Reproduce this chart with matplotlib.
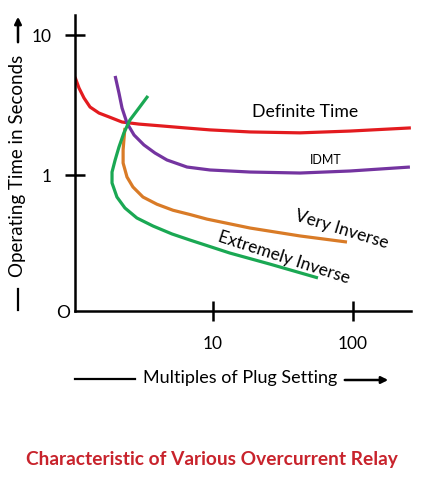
import matplotlib

matplotlib.use("Agg")
import matplotlib.pyplot as plt
from matplotlib.patches import FancyArrowPatch
from matplotlib.lines import Line2D

# curve values (multiple of plug setting, seconds)
definite_x = [1.033, 1.104, 1.198, 1.323, 1.533, 1.807, 2.239, 2.96, 4.32, 6.31,
              9.52, 18.4, 41.8, 95.2, 259]
definite_y = [5.01, 4.18, 3.55, 3.06, 2.77, 2.60, 2.39, 2.31, 2.24, 2.17,
              2.10, 2.03, 2.00, 2.06, 2.17]

idmt_x = [2.00, 2.13, 2.24, 2.43, 2.73, 3.21, 3.85, 4.69, 6.52, 9.52,
          18.4, 41.8, 95.2, 255]
idmt_y = [5.10, 3.85, 3.01, 2.35, 1.93, 1.64, 1.436, 1.28, 1.14, 1.086,
          1.05, 1.033, 1.068, 1.14]

very_x = [2.35, 2.31, 2.28, 2.28, 2.43, 2.68, 3.16, 3.98, 5.18, 6.85,
          9.06, 18.4, 41.8, 90.6]
very_y = [2.17, 1.78, 1.51, 1.218, 0.968, 0.821, 0.696, 0.618, 0.560, 0.522,
          0.484, 0.418, 0.367, 0.332]

extreme_x = [3.43, 2.96, 2.55, 2.31, 2.13, 2.00, 1.90, 1.90, 2.06, 2.35,
             2.86, 3.73, 5.10, 6.85, 13.2, 25.5, 56.2]
extreme_y = [3.67, 3.01, 2.47, 2.00, 1.585, 1.28, 1.05, 0.877, 0.696, 0.581,
             0.493, 0.432, 0.379, 0.343, 0.277, 0.231, 0.184]

x_ticks = [10, 100]
x_tick_labels = ["10", "100"]
y_ticks = [1, 10]
y_tick_labels = ["1", "10"]

W, H = 424, 503


def fx(px):
    return px / W


def fy(py):
    return 1 - py / H


plt.rcParams["font.family"] = ["Lato", "DejaVu Sans"]

fig = plt.figure(figsize=(W / 100, H / 100), dpi=100)
ax = fig.add_axes([fx(75), fy(311), (411 - 75) / W, (311 - 15) / H])
ax.set_xscale("log")
ax.set_yscale("log")
ax.set_xlim(10 ** (2 / 140), 10 ** (338 / 140))
ax.set_ylim(10 ** (-136 / 140), 10 ** (160 / 140))

style = dict(lw=2.3, solid_capstyle="butt", solid_joinstyle="round")
ax.plot(definite_x, definite_y, color="#e31b1f", **style)
ax.plot(idmt_x, idmt_y, color="#7434a0", **style)
ax.plot(very_x, very_y, color="#d97b27", **style)
ax.plot(extreme_x, extreme_y, color="#1aa853", **style)

for side in ["top", "right"]:
    ax.spines[side].set_visible(False)
for side in ["left", "bottom"]:
    ax.spines[side].set_linewidth(1.8)

ax.minorticks_off()
ax.set_xticks(x_ticks, x_tick_labels)
ax.set_yticks(y_ticks, y_tick_labels)
ax.tick_params(axis="both", direction="inout", length=14, width=1.8, labelsize=12.5)
ax.tick_params(axis="x", pad=11)
ax.tick_params(axis="y", pad=10)

# origin label
fig.text(fx(63), fy(313), "O", fontsize=12.5, ha="center", va="center")

# curve labels
fig.text(fx(305), fy(112), "Definite Time", fontsize=12.7, ha="center", va="center")
fig.text(fx(326), fy(160), "IDMT", fontsize=9, ha="center", va="center")
fig.text(fx(342), fy(230), "Very Inverse", fontsize=12.5, ha="center", va="center",
         rotation=-17, rotation_mode="anchor")
fig.text(fx(284), fy(258), "Extremely Inverse", fontsize=12.5, ha="center", va="center",
         rotation=-18, rotation_mode="anchor")

# y axis label with bar and arrow
fig.text(fx(18), fy(166), "Operating Time in Seconds", fontsize=13.5,
         rotation=90, ha="center", va="center")
fig.add_artist(Line2D([fx(18), fx(18)], [fy(289), fy(310)], color="black", lw=1.6))
fig.add_artist(FancyArrowPatch((fx(18), fy(45)), (fx(18), fy(14)),
                               transform=fig.transFigure, arrowstyle="-|>",
                               mutation_scale=10, color="black", lw=1.8))

# x axis label with bar and arrow
fig.text(fx(240), fy(378), "Multiples of Plug Setting", fontsize=13,
         ha="center", va="center")
fig.add_artist(Line2D([fx(75), fx(135)], [fy(379), fy(379)], color="black", lw=1.6))
fig.add_artist(FancyArrowPatch((fx(342), fy(380)), (fx(391), fy(380)),
                               transform=fig.transFigure, arrowstyle="-|>",
                               mutation_scale=10, color="black", lw=1.8))

fig.text(fx(212), fy(460), "Characteristic of Various Overcurrent Relay",
         fontsize=13.8, fontweight="bold", color="#c8232c", ha="center", va="center")

fig.savefig("out.png", dpi=100)
